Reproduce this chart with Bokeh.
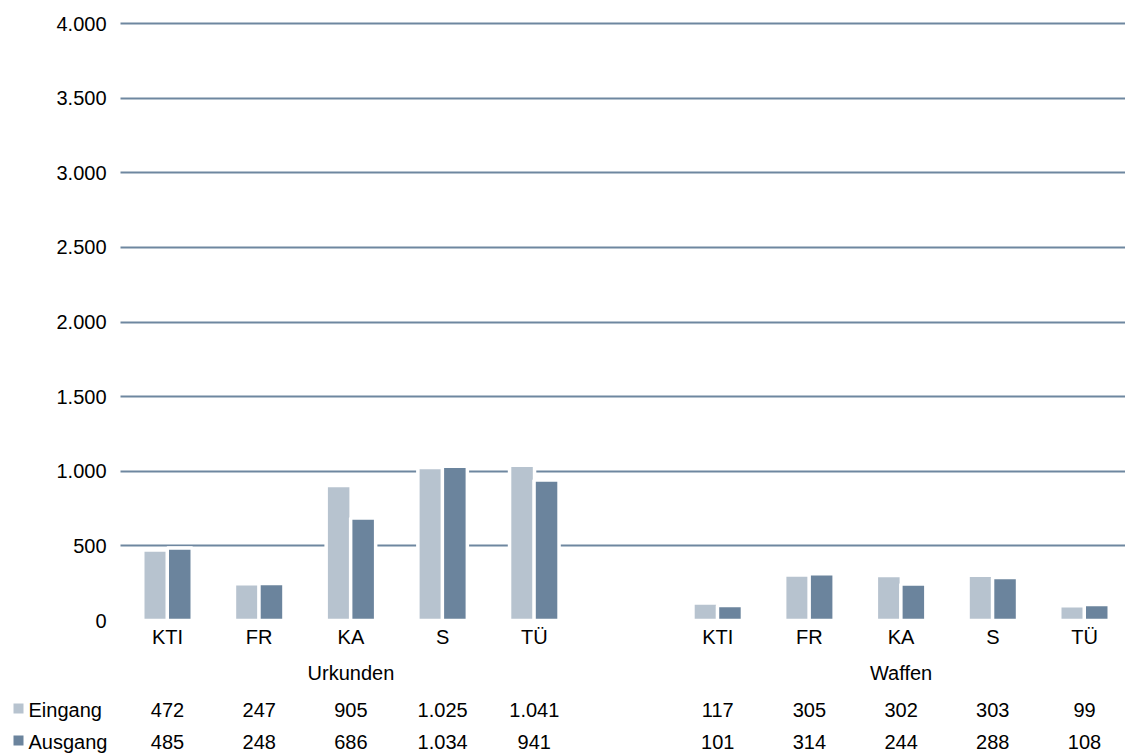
from bokeh.plotting import figure
from bokeh.models import FixedTicker, Range1d, ColumnDataSource, BoxAnnotation
from bokeh.core.properties import value
from bokeh.embed import file_html
from bokeh.resources import INLINE

# ---------------- data ----------------
categories = ["KTI", "FR", "KA", "S", "TÜ"]
groups = ["Urkunden", "Waffen"]
eingang_urkunden = [472, 247, 905, 1025, 1041]
ausgang_urkunden = [485, 248, 686, 1034, 941]
eingang_waffen = [117, 305, 302, 303, 99]
ausgang_waffen = [101, 314, 244, 288, 108]
series_names = ["Eingang", "Ausgang"]
y_ticks = [0, 500, 1000, 1500, 2000, 2500, 3000, 3500, 4000]
y_tick_labels = ["0", "500", "1.000", "1.500", "2.000", "2.500", "3.000", "3.500", "4.000"]

# ---------------- style / layout ----------------
FONT = "Liberation Sans"
FS = "20px"
C_EIN = "#b7c3cf"
C_AUS = "#6b849d"
C_GRID = "#6e87a0"
W, H = 1125, 753
PXU = 91.7                 # pixels per category slot
LEFT = 120                 # left edge of the plotting area (px)
Y_TOP, Y_ZERO = 23, 620    # pixel rows of 4000 and 0
SC = (Y_ZERO - Y_TOP) / 4000.0   # px per value unit


def de(v):
    return f"{v:,}".replace(",", ".")


def ypx(py):
    """data y for a pixel row of the page"""
    return (Y_ZERO - py) / SC


# slot positions: group 1 at 0..4, one empty slot, group 2 at 6..10
n = len(categories)
pos = list(range(n)) + [n + 1 + i for i in range(n)]
cat_all = categories + categories
ein_all = eingang_urkunden + eingang_waffen
aus_all = ausgang_urkunden + ausgang_waffen
group_pos = [(pos[g * n] + pos[g * n + n - 1]) / 2 for g in range(len(groups))]

X0 = -(167 - LEFT) / PXU          # data x at the left edge of the plotting area
XL = X0 - LEFT / PXU              # data x at the left edge of the page
XR = XL + W / PXU
off = 0.1336
bw = 0.2726

p = figure(width=W, height=H, output_backend="svg", toolbar_location=None,
           x_range=Range1d(XL, XR), y_range=Range1d(ypx(H), ypx(0)),
           min_border=0, min_border_left=0, min_border_right=0,
           min_border_top=0, min_border_bottom=0,
           x_axis_location=None, y_axis_location=None)
p.outline_line_color = None
p.xgrid.visible = False

# horizontal grid lines (no line at 0), starting at the plotting-area edge
g = p.ygrid[0]
g.ticker = FixedTicker(ticks=[t for t in y_ticks if t > 0])
g.grid_line_color = C_GRID
g.grid_line_width = 2
if "cross_bounds" in g.properties():
    g.cross_bounds = (X0, XR)
else:
    p.add_layout(BoxAnnotation(right=X0, fill_color="white", fill_alpha=1,
                               line_color=None, level="underlay"))

# bars
src_e = ColumnDataSource(dict(x=[x - off for x in pos], top=ein_all))
src_a = ColumnDataSource(dict(x=[x + off for x in pos], top=aus_all))
p.vbar(x="x", top="top", bottom=0, width=bw, source=src_e,
       fill_color=C_EIN, line_color="white", line_width=3.5)
p.vbar(x="x", top="top", bottom=0, width=bw, source=src_a,
       fill_color=C_AUS, line_color="white", line_width=3.5)

txt = dict(text_font=value(FONT), text_font_size=FS, text_color="black",
           text_baseline="middle")

# y tick labels
p.text(x=[XL + 106 / PXU] * len(y_ticks), y=y_ticks, text=y_tick_labels,
       text_align="right", **txt)

# category labels and group labels
p.text(x=pos, y=[ypx(636)] * len(pos), text=cat_all, text_align="center", **txt)
p.text(x=group_pos, y=[ypx(672)] * len(group_pos), text=groups,
       text_align="center", **txt)

# data table
for vals, py in [(ein_all, 709), (aus_all, 741)]:
    p.text(x=pos, y=[ypx(py)] * len(pos), text=[de(v) for v in vals],
           text_align="center", **txt)

# legend keys + names
p.scatter(x=[XL + 18 / PXU] * 2, y=[ypx(708), ypx(740)], marker="square", size=10,
          fill_color=[C_EIN, C_AUS], line_color=None)
p.text(x=[XL + 28 / PXU] * 2, y=[ypx(709), ypx(741)], text=series_names,
       text_align="left", **txt)

open("out.html", "w").write(file_html(p, INLINE))
